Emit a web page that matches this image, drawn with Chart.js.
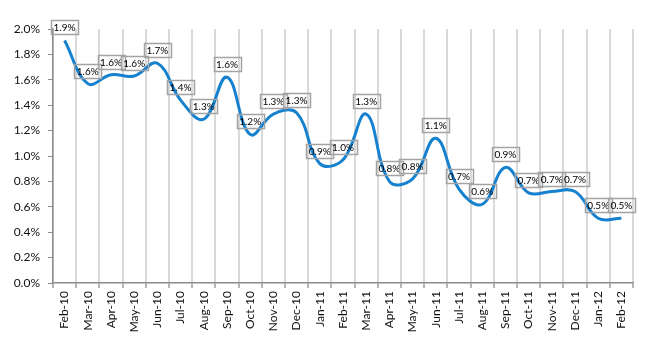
<!DOCTYPE html>
<html>
<head>
<meta charset="utf-8">
<script src="https://cdn.jsdelivr.net/npm/chart.js@4/dist/chart.umd.min.js"></script>
<style>
  html, body { margin: 0; padding: 0; background: #fff; }
  #wrap { width: 650px; height: 350px; position: relative; }
</style>
</head>
<body>
<div id="wrap"><canvas id="c" width="650" height="350"></canvas></div>
<script>
const categories = ["Feb-10","Mar-10","Apr-10","May-10","Jun-10","Jul-10","Aug-10","Sep-10","Oct-10","Nov-10","Dec-10",
  "Jan-11","Feb-11","Mar-11","Apr-11","May-11","Jun-11","Jul-11","Aug-11","Sep-11","Oct-11","Nov-11","Dec-11",
  "Jan-12","Feb-12"];
const rates = [1.91,1.57,1.64,1.63,1.73,1.44,1.29,1.62,1.17,1.33,1.34,
  0.94,0.97,1.33,0.80,0.82,1.14,0.74,0.62,0.91,0.71,0.72,0.72,
  0.51,0.51];
const yTicks = [0.0,0.2,0.4,0.6,0.8,1.0,1.2,1.4,1.6,1.8,2.0];

const labelPlugin = {
  id: 'boxLabels',
  afterDatasetsDraw(chart) {
    const ctx = chart.ctx;
    const meta = chart.getDatasetMeta(0);
    ctx.save();
    ctx.font = '10px Lato, "Liberation Sans", sans-serif';
    ctx.textAlign = 'center';
    ctx.textBaseline = 'middle';
    meta.data.forEach((pt, i) => {
      const txt = rates[i].toFixed(1) + '%';
      const w = Math.round(ctx.measureText(txt).width) + 5;
      const h = 14;
      const bottom = pt.y - 6;
      const x0 = Math.round(pt.x - w / 2) + 0.5;
      const y0 = Math.round(bottom - h) + 0.5;
      ctx.strokeStyle = '#a3a3a3';
      ctx.lineWidth = 1.5;
      ctx.strokeRect(x0, y0, w, h);
      ctx.fillStyle = '#000';
      ctx.fillText(txt, pt.x, y0 + h / 2 + 0.5);
    });
    ctx.restore();
  }
};

new Chart(document.getElementById('c'), {
  type: 'line',
  data: {
    labels: categories,
    datasets: [{
      data: rates,
      borderColor: '#1581cf',
      borderWidth: 3,
      pointRadius: 0,
      tension: 0.4,
      fill: false
    }]
  },
  options: {
    responsive: false,
    animation: false,
    devicePixelRatio: 1,
    layout: { padding: { top: 29, right: 17, left: 0, bottom: 0 } },
    plugins: { legend: { display: false }, tooltip: { enabled: false } },
    scales: {
      x: {
        offset: true,
        grid: {
          offset: true,
          color: '#d9d9d9',
          lineWidth: 2,
          drawTicks: true,
          tickLength: 5,
          tickColor: '#b5b5b5'
        },
        border: { display: true, color: '#8c8c8c', width: 1.5 },
        ticks: {
          autoSkip: false,
          maxRotation: 90,
          minRotation: 90,
          padding: 3,
          color: '#111',
          font: { family: 'Lato, "Liberation Sans", sans-serif', size: 12 }
        },
        afterFit(s) { s.height = 67; }
      },
      y: {
        min: 0,
        max: 2.0,
        afterBuildTicks(s) { s.ticks = yTicks.map(v => ({ value: v })); },
        grid: {
          drawOnChartArea: false,
          drawTicks: true,
          tickLength: 5,
          tickColor: '#8c8c8c'
        },
        border: { display: true, color: '#8c8c8c', width: 1.5 },
        ticks: {
          padding: 8,
          color: '#111',
          font: { family: 'Lato, "Liberation Sans", sans-serif', size: 12 },
          callback: v => Number(v).toFixed(1) + '%'
        },
        afterFit(s) { s.width = 53; }
      }
    }
  },
  plugins: [labelPlugin]
});
</script>
</body>
</html>
